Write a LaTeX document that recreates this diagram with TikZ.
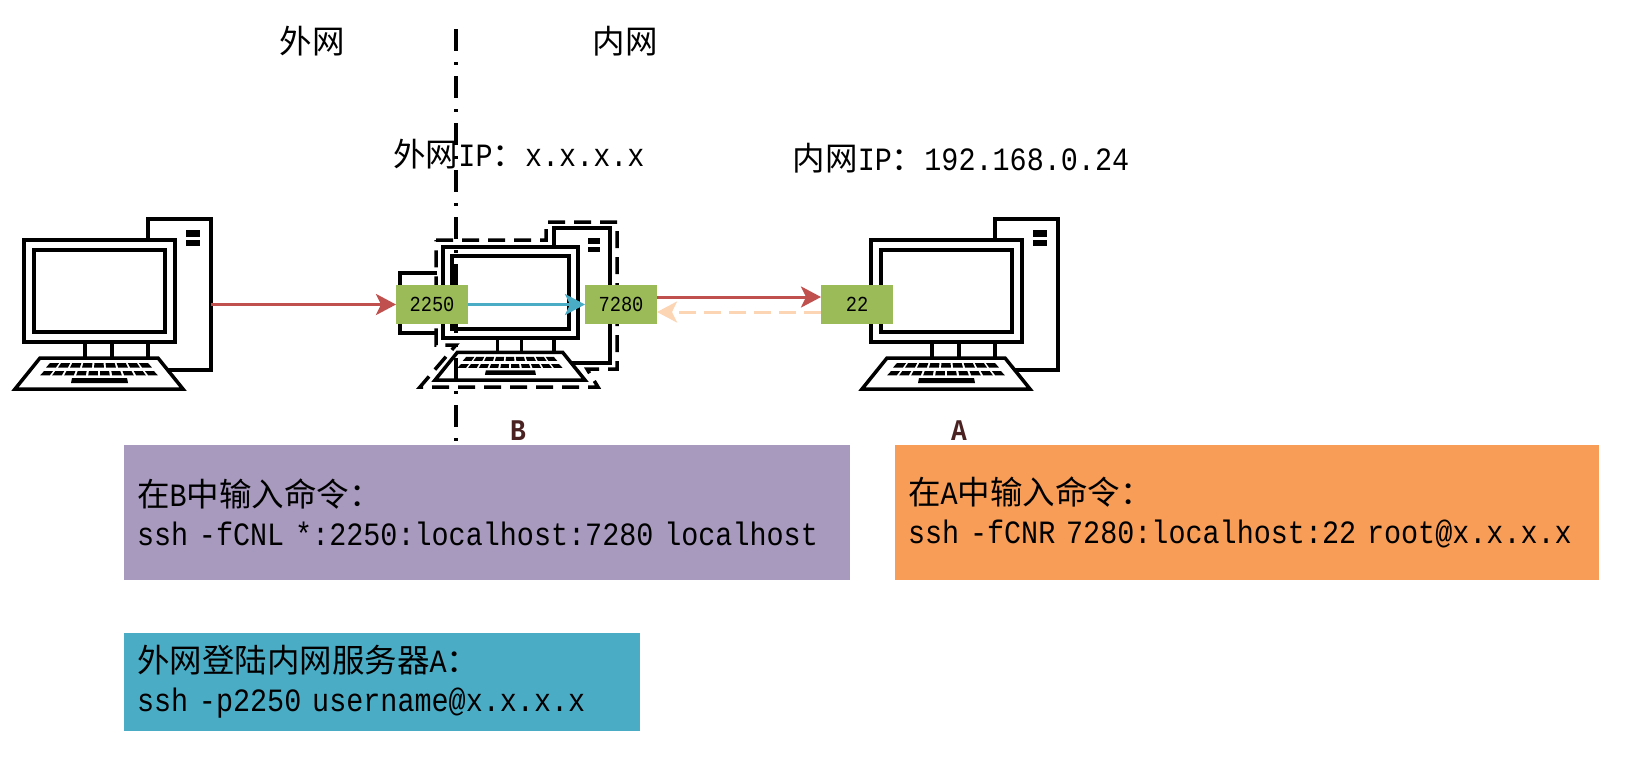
\documentclass[tikz,border=0pt]{standalone}
\usepackage{fontspec}
\usepackage{tikz}
\usetikzlibrary{arrows.meta}
\setmonofont[FakeStretch=0.875]{Liberation Mono}
\newfontfamily\cjk{Noto Sans CJK SC}
\definecolor{portgreen}{HTML}{9BBB59}
\definecolor{linkred}{HTML}{C0504D}
\definecolor{linkblue}{HTML}{4BACC6}
\definecolor{linkpeach}{HTML}{FCD5B5}
\definecolor{boxpurple}{HTML}{A89ABE}
\definecolor{boxorange}{HTML}{F79D58}
\definecolor{hostbrown}{HTML}{4A2222}
\newcommand{\cn}[1]{{\cjk #1}}
\tikzset{
  computer/.pic={
    \draw[fill=white] (148,219) rectangle (211,370);
    \fill (186,230) rectangle (200,237);
    \fill (186,240) rectangle (200,246);
    \draw[fill=white] (24,240) rectangle (175,342);
    \draw[fill=white] (34,250) rectangle (165,332);
    \draw (85,342) -- (85,358);
    \draw (112,342) -- (112,358);
    \draw[fill=white] (40,358) -- (158,358) -- (183,389) -- (15,389) -- cycle;
    \foreach \n/\ytop/\hwt/\ybot/\hwb in {9/363/50/367.5/54, 10/371/56/375.3/60} {
      \pgfmathtruncatemacro{\last}{\n-1}
      \foreach \k [evaluate=\k as \ua using -1+2*\k/\n+.02, evaluate=\k as \ub using -1+2*(\k+1)/\n-.02] in {0,...,\last}
        \fill ({99+\ua*\hwt},\ytop) -- ({99+\ub*\hwt},\ytop) -- ({99+\ub*\hwb},\ybot) -- ({99+\ua*\hwb},\ybot) -- cycle;
    }
    \fill (72,378) -- (127,378) -- (128,383) -- (71,383) -- cycle;
  },
  port/.style={fill=portgreen, minimum width=72pt, minimum height=39pt, inner sep=0pt, outer sep=0pt, font=\ttfamily\fontsize{21.4}{21.4}\selectfont},
  cmdbox/.style={anchor=north west, inner xsep=13pt, inner ysep=0pt, outer sep=0pt, align=left, font=\ttfamily\fontsize{32.5}{39}\selectfont},
  toplabel/.style={inner sep=0pt, font=\ttfamily\fontsize{32.5}{32.5}\selectfont},
  hostlabel/.style={inner sep=0pt, text=hostbrown, font=\ttfamily\bfseries\fontsize{30}{30}\selectfont},
  link/.style={-{Stealth[length=20pt,width=21pt,inset=5pt]}, line width=3pt}
}
\begin{document}
\begin{tikzpicture}[x=1pt, y=-1pt, line width=3.5pt]
        \useasboundingbox (0,0) rectangle (1640,777);
        % three machines
        \pic at (0,0) {computer};
        \pic[scale=0.894] at (421.5,32.4) {computer};
        \pic at (847,0) {computer};
        % selected machine B
        \draw[dash pattern=on 17pt off 9pt] (436,240) -- (546,240) -- (546,222) -- (617,222) -- (617,369) -- (587,369) -- (598,387) -- (420,387) -- (456,345) -- (436,345) -- cycle;
        \draw (437,273) -- (400,273) -- (400,333) -- (437,333);
        % border between the networks
        \coordinate (divtop) at (456,29);
        \coordinate (divbot) at (456,444);
        \draw[dash pattern=on 22pt off 11pt on 3pt off 11pt] (divtop) -- (divbot);
        \node (outer) at (312,41) [toplabel] {\cn{外网}};
        \node (inner) at (625,41) [toplabel] {\cn{内网}};
        \node (outerip) at (519,154) [toplabel] {\cn{外网}IP\cn{：}x.x.x.x};
        \node (innerip) at (961,158) [toplabel] {\cn{内网}IP\cn{：}192.168.0.24};
        \node (hostb) at (518,431) [hostlabel] {B};
        \node (hosta) at (959,431) [hostlabel] {A};
        % ports
        \node (p2250) at (432,304.5) [port] {2250};
        \node (p7280) at (621,304.5) [port] {7280};
        \node (p22) at (857,304.5) [port] {22};
        \coordinate (towerout) at (211,304.5);
        \draw[link, linkred] (towerout) -- (p2250);
        \draw[link, linkblue] (p2250) -- (p7280);
        \draw[link, linkred] ([yshift=7.5pt]p7280.east) -- ([yshift=7.5pt]p22.west);
        \draw[link, linkpeach, dash pattern=on 17pt off 8pt] ([yshift=-7.5pt]p22.west) -- ([yshift=-7.5pt]p7280.east);
        % commands
        \node (cmdb) at (124,445) [cmdbox, fill=boxpurple, text width=700pt, minimum height=135pt] {\cn{在}B\cn{中输入命令：}\\ssh -fCNL *:2250:localhost:7280 localhost};
        \node (cmda) at (895,445) [cmdbox, fill=boxorange, text width=678pt, minimum height=135pt] {\cn{在}A\cn{中输入命令：}\\ssh -fCNR 7280:localhost:22 root@x.x.x.x};
        \node (cmdlogin) at (124,633) [cmdbox, fill=linkblue, text width=490pt, minimum height=98pt] {\cn{外网登陆内网服务器}A\cn{：}\\ssh -p2250 username@x.x.x.x};
    \end{tikzpicture}
\end{document}
